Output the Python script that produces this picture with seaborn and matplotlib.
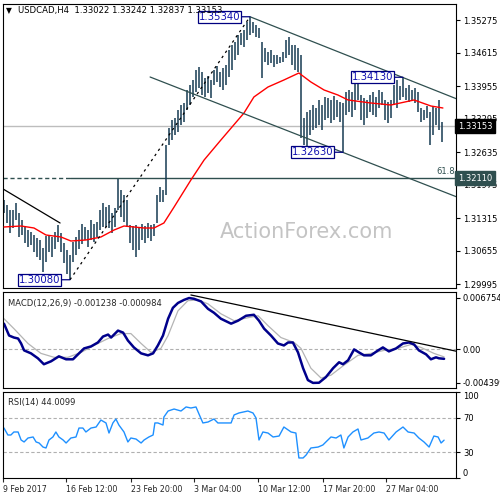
import matplotlib
matplotlib.use("Agg")
import matplotlib.pyplot as plt
import numpy as np
import pandas as pd
import seaborn as sns

# # # # DATA # # # #
# H4 bars, high / low of each bar
highs = [1.31675, 1.31575, 1.31475, 1.31475, 1.31615, 1.31415, 1.31275, 1.31135, 1.31075, 1.31035,
         1.30975, 1.30915, 1.30875, 1.30715, 1.30955, 1.30975, 1.30935, 1.31035, 1.31175, 1.31015,
         1.30815, 1.30675, 1.30575, 1.30835, 1.30935, 1.31075, 1.31195, 1.31135, 1.31075, 1.31275,
         1.31195, 1.31235, 1.31475, 1.31615, 1.31535, 1.31575, 1.31415, 1.31515, 1.32095, 1.31875,
         1.31775, 1.31675, 1.31175, 1.31155, 1.31175, 1.31115, 1.31195, 1.31155, 1.31215, 1.31175,
         1.31195, 1.31775, 1.31935, 1.31875, 1.32775, 1.33115, 1.33275, 1.33315, 1.33475, 1.33575,
         1.33615, 1.33875, 1.33975, 1.34075, 1.34275, 1.34335, 1.34235, 1.34115, 1.34155, 1.34075,
         1.34275, 1.34355, 1.34235, 1.34315, 1.34375, 1.34675, 1.34775, 1.34835, 1.34975, 1.35015,
         1.35075, 1.35235, 1.35340, 1.35235, 1.35175, 1.35115, 1.34835, 1.34715, 1.34635, 1.34675,
         1.34575, 1.34575, 1.34535, 1.34635, 1.34875, 1.34935, 1.34775, 1.34775, 1.34715, 1.34575,
         1.33315, 1.33435, 1.33475, 1.33575, 1.33515, 1.33675, 1.33575, 1.33735, 1.33715, 1.33675,
         1.33755, 1.33675, 1.33635, 1.33615, 1.33835, 1.33875, 1.33835, 1.34075, 1.34130, 1.33775,
         1.33715, 1.33675, 1.33775, 1.33835, 1.33735, 1.33875, 1.33835, 1.33675, 1.33635, 1.33675,
         1.33975, 1.34075, 1.33955, 1.34130, 1.33915, 1.33975, 1.33875, 1.33915, 1.33835, 1.33515,
         1.33475, 1.33555, 1.33435, 1.33555, 1.33515, 1.33675, 1.33242]
lows = [1.31415, 1.31215, 1.31015, 1.31115, 1.31275, 1.30935, 1.30975, 1.30815, 1.30735, 1.30775,
        1.30635, 1.30535, 1.30475, 1.30235, 1.30435, 1.30635, 1.30535, 1.30695, 1.30835, 1.30635,
        1.30415, 1.30195, 1.30080, 1.30435, 1.30575, 1.30695, 1.30795, 1.30875, 1.30735, 1.30875,
        1.30835, 1.30935, 1.31075, 1.31135, 1.31135, 1.31115, 1.31015, 1.31135, 1.31475, 1.31335,
        1.31235, 1.31135, 1.30815, 1.30675, 1.30535, 1.30675, 1.30875, 1.30815, 1.30915, 1.30855,
        1.30955, 1.31215, 1.31635, 1.31635, 1.31775, 1.32775, 1.32875, 1.32975, 1.33035, 1.33175,
        1.33235, 1.33475, 1.33575, 1.33735, 1.33835, 1.33915, 1.33775, 1.33735, 1.33815, 1.33715,
        1.33975, 1.34035, 1.33935, 1.33875, 1.33975, 1.34135, 1.34275, 1.34475, 1.34575, 1.34775,
        1.34735, 1.34875, 1.34975, 1.35015, 1.34935, 1.34915, 1.34115, 1.34435, 1.34375, 1.34415,
        1.34335, 1.34395, 1.34415, 1.34435, 1.34515, 1.34575, 1.34375, 1.34275, 1.34235, 1.32915,
        1.32775, 1.32735, 1.32975, 1.33075, 1.33115, 1.33175, 1.33075, 1.33275, 1.33315, 1.33215,
        1.33275, 1.33335, 1.33235, 1.32630, 1.33375, 1.33435, 1.33335, 1.33475, 1.33675, 1.33275,
        1.33175, 1.33315, 1.33435, 1.33375, 1.33335, 1.33515, 1.33575, 1.33275, 1.33215, 1.33315,
        1.33575, 1.33515, 1.33675, 1.33735, 1.33675, 1.33635, 1.33675, 1.33615, 1.33435, 1.33235,
        1.33275, 1.33315, 1.32775, 1.32975, 1.33175, 1.33075, 1.32837]
last_close = 1.33153
fib_level = 1.32110

# red moving average
ma_idx = [0, 5.7, 10, 14, 19, 22.3, 27.3, 32.3, 36.7, 40, 46.7, 50, 53.3, 56.7, 62.3, 66.7,
          72.3, 80, 83.3, 88, 93.3, 98.3, 102.3, 106.7, 111.3, 114.7, 122.3, 129, 136.7, 142.3, 146.3]
ma_vals = [1.31135, 1.31155, 1.31115, 1.30975, 1.30935, 1.30855, 1.30875, 1.30935, 1.31075, 1.31155,
           1.31115, 1.31115, 1.31215, 1.31535, 1.32075, 1.32475, 1.32875, 1.33415, 1.33735, 1.33935,
           1.34075, 1.34215, 1.34035, 1.33875, 1.33775, 1.33675, 1.33615, 1.33575, 1.33675, 1.33555,
           1.33515]

# MACD(12,26,9)
macd_idx = [0, 1.7, 3.3, 4.7, 5.7, 6.7, 9, 11.3, 13.3, 15.7, 18.3, 20.7, 23, 25, 26.7, 29, 31.3,
            33, 34.7, 35.7, 38, 39.7, 41.3, 43.3, 45.7, 48, 49.7, 51.3, 53, 54.7, 56.3, 58, 60,
            61.7, 63.3, 65.7, 68, 70, 72.3, 75.7, 78, 80.7, 83.3, 85, 86.7, 89, 91.3, 93.3, 94.7,
            96.3, 98, 99.7, 101.3, 103, 105, 107.3, 109.7, 111.7, 113, 114.7, 116.7, 118.3, 120,
            122.3, 124.7, 126.3, 128.3, 130.7, 133, 135, 136.7, 138.3, 140.7, 142.3, 144, 145, 146.7]
macd_vals = [0.00338, 0.00182, 0.00156, 0.00143, 0.00078, -0.00013, -0.00052, -0.00117, -0.00195,
             -0.00156, -0.00091, -0.00130, -0.00130, -0.00052, 0.00013, 0.00039, 0.00091, 0.00169,
             0.00195, 0.00156, 0.00247, 0.00221, 0.00117, 0.00026, -0.00052, -0.00078, -0.00052,
             0.00052, 0.00182, 0.00403, 0.00546, 0.00610, 0.00650, 0.00675, 0.00665, 0.00630,
             0.00533, 0.00481, 0.00403, 0.00338, 0.00377, 0.00442, 0.00455, 0.00377, 0.00273,
             0.00182, 0.00078, 0.00052, 0.00091, 0.00091, -0.00039, -0.00247, -0.00403, -0.00440,
             -0.00438, -0.00364, -0.00247, -0.00169, -0.00195, -0.00143, 0.0, -0.00039, -0.00078,
             -0.00078, -0.00013, 0.00026, -0.00026, 0.00013, 0.00078, 0.00091, 0.00065, -0.00013,
             -0.00065, -0.00130, -0.00104, -0.00117, -0.001238]
sig_idx = [0, 3.3, 8, 12.3, 16.7, 21.3, 25.7, 30, 34.7, 39, 42.3, 45.7, 49, 52.3, 54.7, 58, 61.3,
           64.7, 68, 72.3, 76.7, 81.3, 84.7, 88, 92.3, 96.7, 99, 102.3, 105.7, 109, 113.3, 118,
           122.3, 126.7, 131.3, 135.7, 139, 143.3, 146.7]
sig_vals = [0.00403, 0.00273, 0.00078, -0.00052, -0.00104, -0.00104, -0.00039, 0.00052, 0.00143,
            0.00208, 0.00208, 0.00078, -0.00039, 0.00013, 0.00182, 0.00507, 0.00640, 0.00650,
            0.00598, 0.00468, 0.00377, 0.00416, 0.00442, 0.00312, 0.00156, 0.00091, 0.00013,
            -0.00247, -0.00377, -0.00338, -0.00208, -0.00078, -0.00052, -0.00013, 0.00013,
            0.00065, 0.00026, -0.00052, -0.000984]

# RSI(14)
rsi_idx = [0, 1.3, 2.3, 3.3, 4.7, 5.7, 6.7, 8, 9.7, 10.7, 11.7, 13, 14, 15, 16.3, 17.3, 18.3, 19.7,
           20.7, 22.3, 24, 25, 26.3, 27.3, 29, 30.7, 32.3, 34, 35, 36.3, 37.3, 38.3, 40, 41.3, 42.3,
           44, 45.7, 46.7, 48.3, 49.7, 50.3, 51.3, 53, 53.3, 54.7, 56.7, 59, 60.7, 62.3, 64, 65,
           66.3, 68, 70, 71.3, 73.3, 75.7, 76.7, 78.3, 81.3, 83, 84, 85, 86.3, 88, 89.7, 91.7, 93.3,
           95.7, 97.3, 98.3, 99.7, 100.7, 102.3, 104.7, 106.3, 107.3, 109, 110.7, 112.3, 113.3,
           114.7, 116.3, 118, 119, 121.3, 123.3, 125, 126.7, 128.3, 130.7, 133, 134.7, 136.7,
           138.3, 140, 141.7, 143.3, 144.7, 145.7, 146.7]
rsi_vals = [58.1, 50.0, 50.0, 53.5, 53.5, 44.2, 41.9, 46.5, 47.7, 41.9, 40.7, 36.0, 34.9, 44.2,
            47.7, 53.5, 47.7, 44.2, 40.7, 46.5, 47.7, 58.1, 58.1, 53.5, 58.1, 59.3, 67.4, 64.0,
            52.3, 64.0, 68.6, 61.6, 53.5, 41.9, 46.5, 45.3, 40.7, 44.2, 47.7, 50.0, 64.0, 64.0,
            61.6, 70.9, 77.9, 80.2, 77.9, 82.6, 81.4, 82.6, 74.4, 64.0, 65.1, 68.6, 64.0, 64.0,
            64.0, 73.3, 75.6, 77.9, 75.6, 69.8, 44.2, 53.5, 52.3, 47.7, 48.8, 59.3, 53.5, 52.3,
            23.3, 23.3, 26.7, 34.9, 36.0, 38.4, 41.9, 47.7, 46.5, 50.0, 34.9, 47.7, 53.5, 57.0,
            44.2, 46.5, 52.3, 53.5, 52.3, 44.2, 53.5, 59.3, 53.5, 52.3, 46.5, 41.9, 36.0, 48.8,
            47.7, 40.7, 44.0099]

price_ticks = [1.35275, 1.34615, 1.33955, 1.33295, 1.32635, 1.31975, 1.31315, 1.30655, 1.29995]
date_labels = ["9 Feb 2017", "16 Feb 12:00", "23 Feb 20:00", "3 Mar 04:00",
               "10 Mar 12:00", "17 Mar 20:00", "27 Mar 04:00"]
date_pos = [-0.3, 20.8, 42.2, 63.5, 84.8, 106.2, 127.5]

# hand drawn lines (start idx, start value, end idx, end value)
upper_channel = (82, 1.35340, 151, 1.33695)
lower_channel = (48.7, 1.34135, 151, 1.31735)
early_trend = (-0.3, 1.31895, 18.7, 1.31215)
macd_trend = (62.3, 0.00715, 151, -0.00026)

BAR = "#163a52"
SLATE = "#2f4f4f"
NAVY = "#000080"
FS = 6.0

sns.set_style("white")
plt.rcParams['font.family'] = ['DejaVu Sans']

fig = plt.figure(figsize=(5, 5), dpi=100)
ax = fig.add_axes([0.006, 0.424, 0.906, 0.568])
ax2 = fig.add_axes([0.006, 0.224, 0.906, 0.192])
ax3 = fig.add_axes([0.006, 0.044, 0.906, 0.172])

for a in (ax, ax2, ax3):
    a.set_xlim(-0.33, 150.67)
    a.yaxis.tick_right()
    a.tick_params(axis='y', direction='out', length=3, width=0.8, labelsize=FS, pad=2, colors='black')
    a.tick_params(axis='x', bottom=False, labelbottom=False)
    for s in a.spines.values():
        s.set_color('black')
        s.set_linewidth(0.8)

# # # # PRICE PANEL # # # #
bars = pd.DataFrame({'idx': np.arange(len(highs)), 'high': highs, 'low': lows})
ax.text(0.671, 0.197, "ActionForex.com", transform=ax.transAxes, fontsize=15,
        color="#c4c4c4", ha='center', va='center', zorder=0)
ax.axhline(last_close, color="#bdbdbd", lw=1, zorder=1)
low_i = int(bars['low'].idxmin())
high_i = int(bars['high'].idxmax())
ax.plot([-0.33, low_i], [fib_level, fib_level], color=SLATE, lw=1, ls=(0, (3, 2)), zorder=1)
ax.plot([low_i, 150.67], [fib_level, fib_level], color=SLATE, lw=1, zorder=1)
ax.text(150.3, fib_level + 0.0004, "61.8", fontsize=FS, color=SLATE, ha='right', va='bottom')

ax.vlines(bars['idx'], bars['low'], bars['high'], color=BAR, lw=1.1, zorder=2)
sns.lineplot(x=ma_idx, y=ma_vals, ax=ax, color='red', lw=1, zorder=3)

for (x0, y0, x1, y1), c in ((upper_channel, SLATE), (lower_channel, SLATE), (early_trend, 'black')):
    ax.plot([x0, x1], [y0, y1], color=c, lw=0.9, zorder=3)
ax.plot([low_i, high_i], [lows[low_i], highs[high_i]], color='black', lw=0.9, ls=(0, (2, 3)), zorder=3)

# swing labels
swing_low2 = 113
swing_high2 = 133
for xi, val in ((high_i, highs[high_i]), (low_i, lows[low_i]),
                (swing_low2, lows[swing_low2]), (swing_high2, highs[swing_high2])):
    ax.annotate("%.5f" % val, xy=(xi, val), xytext=(-7, 0), textcoords='offset points',
                ha='right', va='center', fontsize=7.3, color="#1010b0",
                bbox=dict(boxstyle='square,pad=0.1', fc='white', ec=NAVY, lw=0.9),
                arrowprops=dict(arrowstyle='-', color=NAVY, lw=0.9, shrinkA=0, shrinkB=0), zorder=5)

ax.set_ylim(1.29915, 1.35595)
ax.set_yticks(price_ticks)
ax.set_yticklabels(["%.5f" % p for p in price_ticks])
ax.set_xlabel('')
ax.set_ylabel('')
for val, txt, bg in ((last_close, "1.33153", "black"), (fib_level, "1.32110", SLATE)):
    ax.text(1.004, val, txt, transform=ax.get_yaxis_transform(), fontsize=FS, color='white',
            ha='left', va='center', zorder=6, clip_on=False,
            bbox=dict(boxstyle='square,pad=0.3', fc=bg, ec=bg))

fig.text(0.012, 0.979, "\u25bc", fontsize=5.5, color='black', va='center')
fig.text(0.036, 0.979, "USDCAD,H4  1.33022 1.33242 1.32837 1.33153", fontsize=6.1,
         color='black', va='center')

# # # # MACD PANEL # # # #
ax2.axhline(0, color="#b0b0b0", lw=0.8, ls=(0, (3, 2)))
sns.lineplot(x=sig_idx, y=sig_vals, ax=ax2, color="#b4b4b4", lw=0.9)
sns.lineplot(x=macd_idx, y=macd_vals, ax=ax2, color="#00008b", lw=1.8)
ax2.plot([macd_trend[0], macd_trend[2]], [macd_trend[1], macd_trend[3]], color='black', lw=0.9)
ax2.set_ylim(-0.00507, 0.00754)
ax2.set_yticks([0.006754, 0.0, -0.004399])
ax2.set_yticklabels(["0.006754", "0.00", "-0.004399"])
ax2.set_xlabel('')
ax2.set_ylabel('')
ax2.text(0.01, 0.93, "MACD(12,26,9) -0.001238 -0.000984", transform=ax2.transAxes,
         fontsize=FS, va='top', ha='left')

# # # # RSI PANEL # # # #
for lvl in (70, 30):
    ax3.axhline(lvl, color="#b0b0b0", lw=0.8, ls=(0, (3, 2)))
sns.lineplot(x=rsi_idx, y=rsi_vals, ax=ax3, color="#1e90ff", lw=1)
ax3.set_ylim(0, 100)
ax3.set_yticks([100, 70, 30, 0])
ax3.set_yticklabels(["100", "70", "30", "0"])
ax3.get_yticklabels()[0].set_va('top')
ax3.get_yticklabels()[3].set_va('bottom')
ax3.set_ylabel('')
ax3.text(0.01, 0.93, "RSI(14) 44.0099", transform=ax3.transAxes, fontsize=FS, va='top', ha='left')
ax3.set_xticks(date_pos)
ax3.set_xticklabels(date_labels)
ax3.tick_params(axis='x', bottom=True, labelbottom=True, direction='out', length=3, width=0.8,
                labelsize=5.7, pad=2)
for t in ax3.get_xticklabels():
    t.set_ha('left')
ax3.set_xlabel('')

fig.savefig("out.png", dpi=100, facecolor='white')
